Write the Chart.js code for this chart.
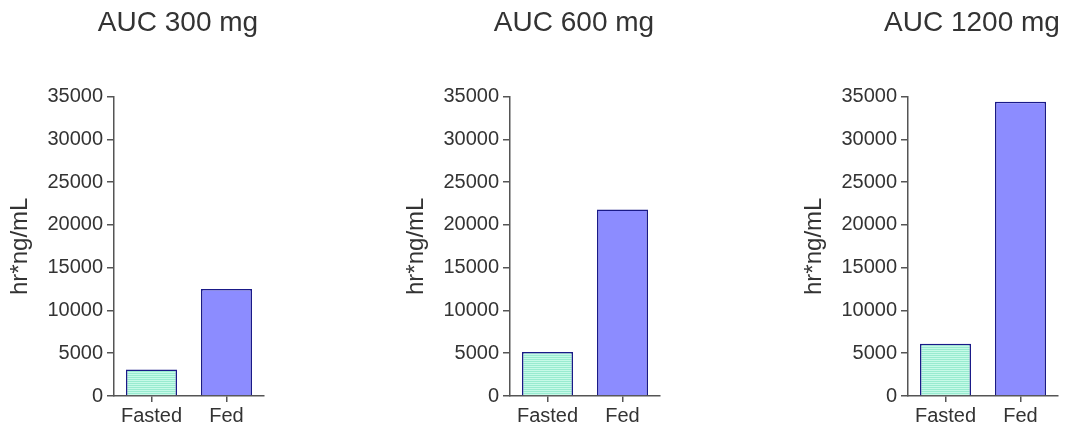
<!DOCTYPE html>
<html>
<head>
<meta charset="utf-8">
<script src="https://cdn.jsdelivr.net/npm/chart.js@4/dist/chart.umd.min.js"></script>
<style>
  html, body { margin: 0; padding: 0; background: #fff; overflow: hidden; width: 1068px; height: 425px; }
  .panel { position: absolute; top: 0; width: 356px; height: 425px; }
</style>
</head>
<body>
<div class="panel" style="left:0px"><canvas id="c300" width="356" height="425"></canvas></div>
<div class="panel" style="left:396px"><canvas id="c600" width="356" height="425"></canvas></div>
<div class="panel" style="left:794px"><canvas id="c1200" width="356" height="425"></canvas></div>
<script>
const categories = ["Fasted", "Fed"]
const titles = ["AUC 300 mg", "AUC 600 mg", "AUC 1200 mg"]
const auc300 = [3100, 12500]
const auc600 = [5150, 21800]
const auc1200 = [6100, 34400]
const yTicks = [0, 5000, 10000, 15000, 20000, 25000, 30000, 35000]
const yTitle = "hr*ng/mL"

const textColor = "#333333"
const axisColor = "#555555"
const font = "Arial, 'Liberation Sans', sans-serif"

// striped mint fill for the fasted bar
function stripes() {
  const c = document.createElement("canvas")
  c.width = 4
  c.height = 2
  const g = c.getContext("2d")
  g.fillStyle = "#c6fae8"
  g.fillRect(0, 0, 4, 1)
  g.fillStyle = "#98ebd0"
  g.fillRect(0, 1, 4, 1)
  return g.createPattern(c, "repeat")
}

function drawPanel(id, title, values) {
  const ctx = document.getElementById(id).getContext("2d")
  return new Chart(ctx, {
    type: "bar",
    data: {
      labels: categories,
      datasets: [{
        data: values,
        backgroundColor: [stripes(), "#8c8cff"],
        borderColor: "#1a1a88",
        borderWidth: 1.5,
        categoryPercentage: 1,
        barPercentage: 0.68
      }]
    },
    options: {
      responsive: false,
      animation: false,
      devicePixelRatio: 1,
      plugins: {
        legend: { display: false },
        tooltip: { enabled: false },
        title: {
          display: true,
          text: title,
          color: textColor,
          font: { family: font, size: 28, weight: "normal" },
          padding: { top: 6, bottom: 57 }
        }
      },
      scales: {
        x: {
          grid: { drawOnChartArea: false, drawTicks: true, tickLength: 6, offset: false, color: axisColor, lineWidth: 1.5 },
          border: { color: axisColor, width: 1.5 },
          ticks: { color: textColor, padding: 2, font: { family: font, size: 20 } },
          afterFit: s => { s.height = 29 }
        },
        y: {
          min: 0,
          max: 35000,
          afterBuildTicks: s => { s.ticks = yTicks.map(v => ({ value: v })) },
          grid: { drawOnChartArea: false, drawTicks: true, tickLength: 7, color: axisColor, lineWidth: 1.5 },
          border: { color: axisColor, width: 1.5 },
          ticks: { color: textColor, padding: 4, font: { family: font, size: 20 }, callback: v => String(v) },
          title: {
            display: true,
            text: yTitle,
            color: textColor,
            font: { family: font, size: 24 },
            padding: { top: 6, bottom: 0 }
          },
          afterFit: s => { s.width = 114 }
        },
        // empty right-hand spacer so the plot ends where the reference does
        spacer: {
          type: "linear",
          position: "right",
          display: true,
          grid: { display: false },
          border: { display: false },
          ticks: { display: false },
          afterFit: s => { s.width = 92 }
        }
      }
    }
  })
}

drawPanel("c300", titles[0], auc300)
drawPanel("c600", titles[1], auc600)
drawPanel("c1200", titles[2], auc1200)
</script>
</body>
</html>
